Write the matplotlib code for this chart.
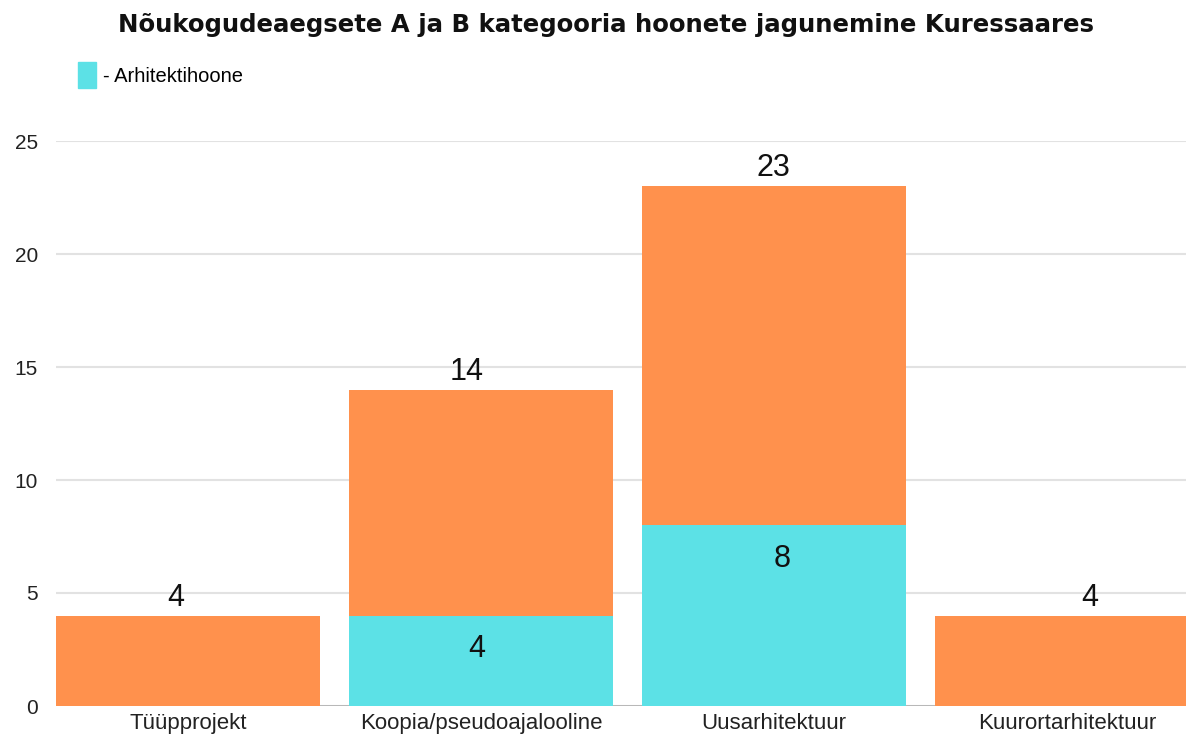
import matplotlib
matplotlib.use("Agg")
import matplotlib.pyplot as plt
from matplotlib.patches import Patch

categories = ["Tüüpprojekt", "Koopia/pseudoajalooline", "Uusarhitektuur", "Kuurortarhitektuur"]
totals = [4, 14, 23, 4]
arhitektihoone = [0, 4, 8, 0]
title = "Nõukogudeaegsete A ja B kategooria hoonete jagunemine Kuressaares"
legend_label = "- Arhitektihoone"
yticks = [0, 5, 10, 15, 20, 25]

# hand-placed label nudges in the original (pixels)
total_nudge = [-12, -14, -1, 23]
inner_nudge = [0, -4, 8, 0]

ORANGE = "#FF914D"
CYAN = "#5CE1E6"

W, H = 1186, 735
PX = 72 / 100  # points per pixel
fig = plt.figure(figsize=(W / 100, H / 100), dpi=100)
left, right, bottom, top = 56, 1199, 706, 141
ax = fig.add_axes([left / W, (H - bottom) / H, (right - left) / W, (bottom - top) / H])

x = list(range(len(categories)))
ax.bar(x, totals, width=0.9, color=ORANGE, zorder=2)
ax.bar(x, arhitektihoone, width=0.9, color=CYAN, zorder=3)

ax.set_xlim(-0.45, len(categories) - 0.55)
ax.set_ylim(0, 25)
ax.set_yticks(yticks)
ax.yaxis.grid(True, color="#e2e2e2", linewidth=1.5, zorder=0)
ax.set_axisbelow(True)
for s in ax.spines.values():
    s.set_visible(False)
ax.axhline(0, color="#b0b0b0", linewidth=1.2, zorder=1)
ax.tick_params(axis="y", length=0, pad=13, labelsize=15, labelcolor="#222222")
ax.tick_params(axis="x", length=0, pad=5, labelsize=16, labelcolor="#222222")
ax.set_xticks(x)
ax.set_xticklabels(categories)
for lab in ax.get_xticklabels() + ax.get_yticklabels():
    lab.set_fontfamily("Liberation Sans")

for xi, t, dx in zip(x, totals, total_nudge):
    ax.annotate(str(t), (xi, t), xytext=(dx * PX, 13), textcoords="offset points",
                ha="center", va="center", fontsize=22, family="Liberation Sans", color="#111111")
for xi, a, dx in zip(x, arhitektihoone, inner_nudge):
    if a > 0:
        ax.annotate(str(a), (xi, a), xytext=(dx * PX, -24), textcoords="offset points",
                    ha="center", va="center", fontsize=22, family="Liberation Sans", color="#111111")

fig.text(606 / W, 1 - 25 / H, title, ha="center", va="center", fontsize=17.6,
         fontweight="bold", family="DejaVu Sans", color="#111111")

fig.legend(handles=[Patch(color=CYAN)], labels=[legend_label], loc="center left",
           bbox_to_anchor=(78 / W, 1 - 75 / H), frameon=False, handlelength=0.9,
           handleheight=1.6, handletextpad=0.35, prop={"family": "Liberation Sans", "size": 14.5},
           borderaxespad=0, borderpad=0)

fig.savefig("out.png", dpi=100)
